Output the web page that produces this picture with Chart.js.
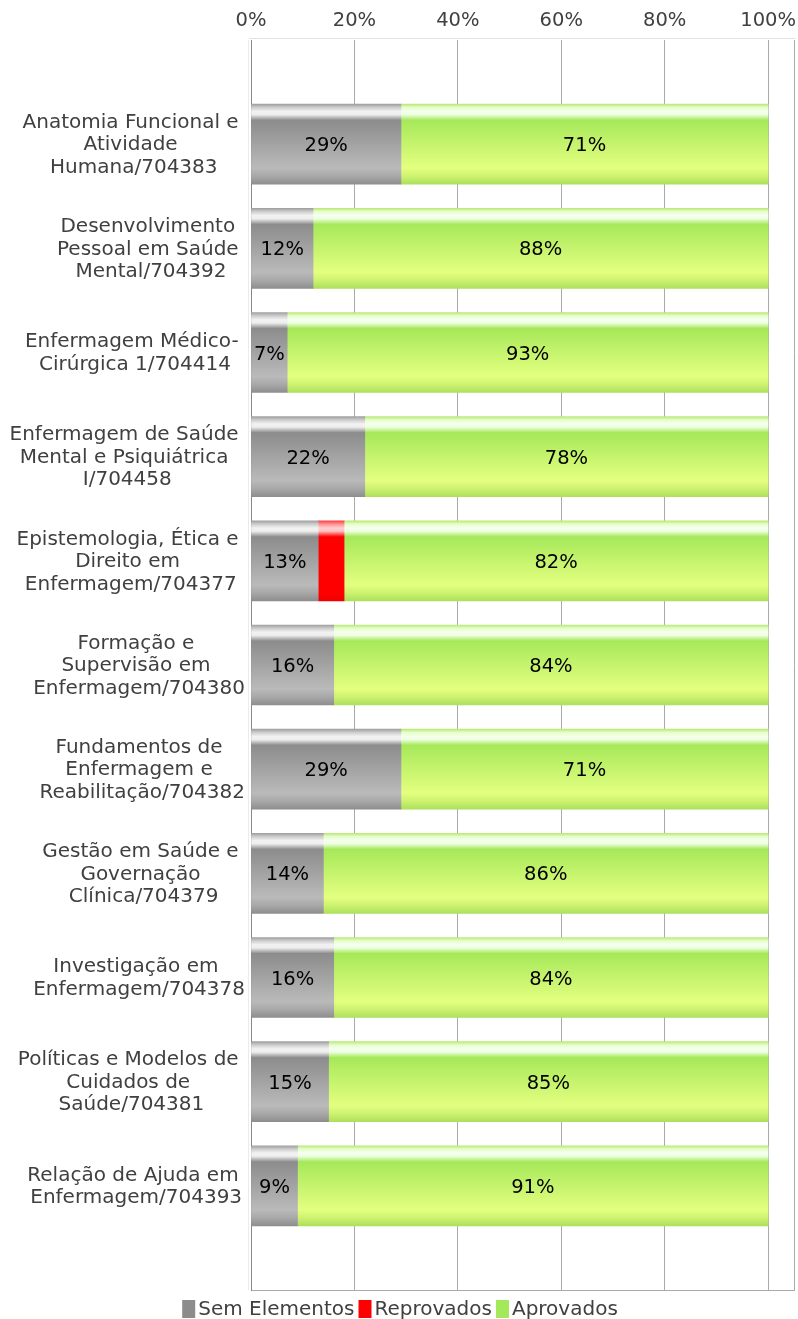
<!DOCTYPE html>
<html>
<head>
<meta charset="utf-8">
<script src="https://cdn.jsdelivr.net/npm/chart.js@4/dist/chart.umd.min.js"></script>
<style>
  body { margin: 0; background: #fff; }
  #box { width: 798px; height: 1319px; }
</style>
</head>
<body>
<div id="box"><canvas id="grafico"></canvas></div>
<script>
// unidades curriculares (linhas do rótulo)
var categorias = [
  ['Anatomia Funcional e', 'Atividade', 'Humana/704383'],
  ['Desenvolvimento', 'Pessoal em Saúde', 'Mental/704392'],
  ['Enfermagem Médico-', 'Cirúrgica 1/704414'],
  ['Enfermagem de Saúde', 'Mental e Psiquiátrica', 'I/704458'],
  ['Epistemologia, Ética e', 'Direito em', 'Enfermagem/704377'],
  ['Formação e', 'Supervisão em', 'Enfermagem/704380'],
  ['Fundamentos de', 'Enfermagem e', 'Reabilitação/704382'],
  ['Gestão em Saúde e', 'Governação', 'Clínica/704379'],
  ['Investigação em', 'Enfermagem/704378'],
  ['Políticas e Modelos de', 'Cuidados de', 'Saúde/704381'],
  ['Relação de Ajuda em', 'Enfermagem/704393']
];
var semElementos = [29, 12, 7, 22, 13, 16, 29, 14, 16, 15, 9];
var reprovados   = [null, null, null, null, 5, null, null, null, null, null, null];
var aprovados    = [71, 88, 93, 78, 82, 84, 71, 86, 84, 85, 91];
var ticksX = [0, 20, 40, 60, 80, 100];

var FONTE = "'DejaVu Sans', sans-serif";

// espaço vazio antes e depois das barras
var labels = [''].concat(categorias.map(function(c, i) { return 'c' + i; })).concat(['']);
function pad(arr) { return [null].concat(arr).concat([null]); }

var cores = {
  cinza: ['#a0a0a0', '#cccccc', '#f2f2f2', '#eeeeee', '#8c8c8c', '#bababa', '#a8a8a8', '#8e8e8e'],
  verde: ['#bce878', '#e4ffc8', '#f6fff0', '#eeffe0', '#a6e85a', '#e4ff80', '#cef270', '#ace05c'],
  verm:  ['#ff4040', '#ff9090', '#ffd0d0', '#ffc0c0', '#ff0000', '#ff0000', '#ff0000', '#f00000']
};
var paradas = [0, 0.04, 0.09, 0.13, 0.2, 0.8, 0.9, 1];

function brilho(nome, solida) {
  return function(ctx) {
    if (ctx.type !== 'data') return solida;
    var y = ctx.chart.scales.y.getPixelForValue(ctx.dataIndex);
    if (!isFinite(y)) return solida;
    var g = ctx.chart.ctx.createLinearGradient(0, y - 40, 0, y + 40);
    for (var i = 0; i < paradas.length; i++) g.addColorStop(paradas[i], cores[nome][i]);
    return g;
  };
}

var data = {
  labels: labels,
  datasets: [
    { label: 'Sem Elementos', data: pad(semElementos), backgroundColor: brilho('cinza', '#8c8c8c'), legenda: '#8c8c8c', rotulos: true },
    { label: 'Reprovados', data: pad(reprovados), backgroundColor: brilho('verm', '#ff0000'), legenda: '#ff0000', rotulos: false },
    { label: 'Aprovados', data: pad(aprovados), backgroundColor: brilho('verde', '#a6e85a'), legenda: '#a4e85c', rotulos: true }
  ]
};

// moldura da área do gráfico
var moldura = {
  id: 'moldura',
  beforeDatasetsDraw: function(chart) {
    var a = chart.chartArea, c = chart.ctx;
    c.save();
    c.lineWidth = 1;
    function linha(x1, y1, x2, y2, cor) {
      c.strokeStyle = cor; c.beginPath(); c.moveTo(x1, y1); c.lineTo(x2, y2); c.stroke();
    }
    linha(a.left - 2, a.top - 1.5, a.right, a.top - 1.5, '#e2e2e2');
    linha(a.left - 2.5, a.top, a.left - 2.5, a.bottom, '#ebebeb');
    linha(a.right - 0.5, a.top, a.right - 0.5, a.bottom + 1, '#aaaaaa');
    linha(a.left, a.bottom + 0.5, a.right, a.bottom + 0.5, '#aaaaaa');
    linha(a.left + 0.5, a.top, a.left + 0.5, a.bottom + 1, '#888888');
    c.restore();
  }
};

// rótulos das categorias (linhas centradas no bloco)
var rotulosY = {
  id: 'rotulosY',
  afterDraw: function(chart) {
    var c = chart.ctx, y = chart.scales.y;
    c.save();
    c.font = '20px ' + FONTE;
    c.fillStyle = '#404040';
    c.textAlign = 'left';
    c.textBaseline = 'middle';
    var direita = 245, alt = 22.5;
    categorias.forEach(function(linhas, i) {
      var larg = linhas.map(function(l, k) {
        return c.measureText(k < linhas.length - 1 ? l + ' ' : l).width;
      });
      var maxL = Math.max.apply(null, larg);
      var centro = direita - maxL / 2;
      var yc = y.getPixelForValue(i + 1);
      linhas.forEach(function(l, k) {
        c.fillText(l, centro - larg[k] / 2, yc + 1 + (k - (linhas.length - 1) / 2) * alt);
      });
    });
    c.restore();
  }
};

// percentagens dentro das barras
var valores = {
  id: 'valores',
  afterDatasetsDraw: function(chart) {
    var c = chart.ctx;
    c.save();
    c.font = '19.5px ' + FONTE;
    c.fillStyle = '#000';
    c.textAlign = 'center';
    c.textBaseline = 'middle';
    chart.data.datasets.forEach(function(ds, d) {
      if (!ds.rotulos) return;
      chart.getDatasetMeta(d).data.forEach(function(el, i) {
        var v = ds.data[i];
        if (v === null || v === undefined) return;
        c.fillText(v + '%', (el.x + el.base) / 2, el.y + 2);
      });
    });
    c.restore();
  }
};

// legenda em baixo
var legenda = {
  id: 'legenda',
  afterDraw: function(chart) {
    var c = chart.ctx;
    c.save();
    c.font = '20px ' + FONTE;
    c.textBaseline = 'middle';
    c.textAlign = 'left';
    var itens = chart.data.datasets.map(function(ds) {
      return { t: ds.label, cor: ds.legenda, w: c.measureText(ds.label).width };
    });
    var total = 0;
    itens.forEach(function(it, i) { total += 13 + 3 + it.w + (i < itens.length - 1 ? 4 : 0); });
    var x = (chart.width - total) / 2 + 1, yb = 1300;
    itens.forEach(function(it) {
      c.fillStyle = it.cor;
      c.fillRect(x, yb, 13, 18);
      c.fillStyle = '#404040';
      c.fillText(it.t, x + 16, yb + 9.5);
      x += 13 + 3 + it.w + 4;
    });
    c.restore();
  }
};

var options = {
  indexAxis: 'y',
  responsive: true,
  maintainAspectRatio: false,
  animation: false,
  layout: { padding: { left: 0, right: 3, top: 0, bottom: 29 } },
  plugins: {
    legend: { display: false },
    tooltip: { enabled: false },
    title: { display: false }
  },
  datasets: { bar: { barThickness: 80, borderWidth: 0 } },
  scales: {
    x: {
      position: 'top',
      stacked: true,
      min: 0,
      max: 105.2,
      afterBuildTicks: function(s) {
        s.ticks = ticksX.map(function(v) { return { value: v }; });
      },
      afterFit: function(s) { s.height = 40; s.paddingLeft = 0; s.paddingRight = 0; },
      grid: { color: '#aaaaaa', drawTicks: false },
      border: { display: false },
      ticks: {
        padding: 7,
        color: '#404040',
        font: { size: 19.5, family: FONTE },
        maxRotation: 0,
        callback: function(v) { return v + '%'; }
      }
    },
    y: {
      stacked: true,
      offset: false,
      afterFit: function(s) { s.width = 251; },
      grid: { display: false },
      border: { display: false },
      ticks: { display: false }
    }
  }
};

var ctx = document.getElementById('grafico');
var myChart = new Chart(ctx, {
  type: 'bar',
  data: data,
  options: options,
  plugins: [moldura, valores, rotulosY, legenda]
});
</script>
</body>
</html>
